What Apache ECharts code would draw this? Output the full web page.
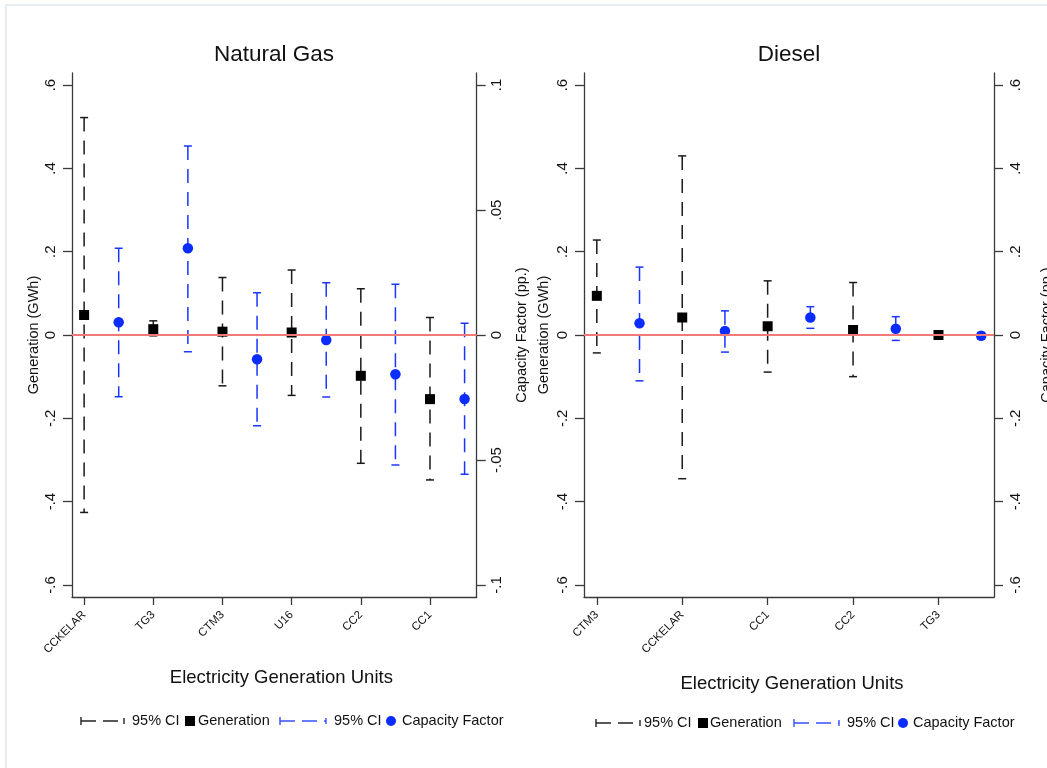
<!DOCTYPE html>
<html>
<head>
<meta charset="utf-8">
<title>Natural Gas / Diesel</title>
<script src="https://cdn.jsdelivr.net/npm/echarts@6/dist/echarts.min.js"></script>
<style>
  html, body { margin: 0; padding: 0; background: #fff; }
  #chart { width: 1047px; height: 768px; }
</style>
</head>
<body>
<div id="chart"></div>
<script>
// Natural gas units (left panel)
const gasUnits = ["CCKELAR", "TG3", "CTM3", "U16", "CC2", "CC1"];
const gasGen = [0.048, 0.014, 0.008, 0.006, -0.098, -0.154];
const gasGenLo = [-0.426, -0.002, -0.122, -0.145, -0.308, -0.348];
const gasGenHi = [0.522, 0.034, 0.138, 0.156, 0.111, 0.042];
const gasCF = [0.0051, 0.0347, -0.0097, -0.002, -0.0157, -0.0256];
const gasCFLo = [-0.0247, -0.0067, -0.0363, -0.0248, -0.052, -0.0557];
const gasCFHi = [0.0347, 0.0756, 0.0169, 0.0209, 0.0203, 0.0047];

// Diesel units (right panel)
const dslUnits = ["CTM3", "CCKELAR", "CC1", "CC2", "TG3"];
const dslGen = [0.094, 0.042, 0.021, 0.012, 0.0];
const dslGenLo = [-0.043, -0.345, -0.089, -0.1, -0.003];
const dslGenHi = [0.228, 0.43, 0.13, 0.126, 0.003];
const dslCF = [0.028, 0.0096, 0.042, 0.015, -0.002];
const dslCFLo = [-0.11, -0.041, 0.016, -0.013, -0.01];
const dslCFHi = [0.163, 0.058, 0.068, 0.044, 0.006];

// tick labels
const genTicks = [-0.6, -0.4, -0.2, 0, 0.2, 0.4, 0.6];
const gasCFTicks = [-0.1, -0.05, 0, 0.05, 0.1];
const dslCFTicks = [-0.6, -0.4, -0.2, 0, 0.2, 0.4, 0.6];

const FONT = "'Liberation Sans', Arial, Helvetica, sans-serif";
const BLACK = "#111";
const BLUE = "#0a2cff";
const BLUE_CI = "#1836ff";
const AXIS = "#3a3a3a";

// stata style: .6, -.4, 0
function stataFmt(v) {
  if (Math.abs(v) < 1e-9) return "0";
  return String(+v.toFixed(3)).replace("0.", ".");
}

function genPts(vals) { return vals.map((v, i) => [2 * i + 1, v]); }
function cfPts(vals) { return vals.map((v, i) => [2 * i + 2, v]); }
function ciRows(lo, hi, off) { return lo.map((l, i) => [2 * i + off, l, hi[i]]); }

// rcap drawn as dashed stem with solid caps
function ciRender(color) {
  return function (params, api) {
    const x = api.value(0);
    const top = api.coord([x, api.value(2)]);
    const bot = api.coord([x, api.value(1)]);
    const w = 4;
    return {
      type: "group",
      children: [
        { type: "line", shape: { x1: top[0], y1: top[1], x2: bot[0], y2: bot[1] },
          style: { stroke: color, lineWidth: 1.5, lineDash: [14, 9] } },
        { type: "line", shape: { x1: top[0] - w, y1: top[1], x2: top[0] + w, y2: top[1] },
          style: { stroke: color, lineWidth: 1.5 } },
        { type: "line", shape: { x1: bot[0] - w, y1: bot[1], x2: bot[0] + w, y2: bot[1] },
          style: { stroke: color, lineWidth: 1.5 } }
      ]
    };
  };
}

function xAxisFor(grid, units, min, max, pad) {
  const pos = units.map((u, i) => 2 * i + 1);
  return {
    type: "value", gridIndex: grid, min: min, max: max,
    name: "Electricity Generation Units", nameLocation: "middle",
    nameGap: grid === 0 ? 71 : 77,
    nameTextStyle: { fontFamily: FONT, fontSize: 18.5, color: BLACK, padding: [0, 0, 0, pad] },
    axisLine: { show: true, onZero: false, lineStyle: { color: AXIS, width: 1.3 } },
    axisTick: { show: true, length: 8, customValues: pos, lineStyle: { color: AXIS, width: 1.3 } },
    axisLabel: {
      customValues: pos, rotate: 45, margin: 16,
      fontFamily: FONT, fontSize: 11.5, color: BLACK,
      formatter: v => units[Math.round((v - 1) / 2)]
    },
    splitLine: { show: false }
  };
}

function yAxisFor(grid, side, min, max, ticks, gap, name, margin) {
  return {
    type: "value", gridIndex: grid, position: side, min: min, max: max,
    name: name, nameLocation: "middle", nameRotate: 90, nameGap: gap,
    nameTextStyle: { fontFamily: FONT, fontSize: 14.5, color: BLACK },
    axisLine: { show: true, onZero: false, lineStyle: { color: AXIS, width: 1.3 } },
    axisTick: { show: true, length: 9, customValues: ticks, lineStyle: { color: AXIS, width: 1.3 } },
    axisLabel: {
      customValues: ticks, rotate: 90, margin: margin,
      fontFamily: FONT, fontSize: 15, color: BLACK, formatter: stataFmt
    },
    splitLine: { show: false }
  };
}

function panelSeries(xi, yGen, yCF, gen, genLo, genHi, cf, cfLo, cfHi) {
  return [
    { type: "custom", xAxisIndex: xi, yAxisIndex: yGen, z: 2, silent: true,
      renderItem: ciRender("#1a1a1a"), encode: { x: 0, y: [1, 2] },
      data: ciRows(genLo, genHi, 1) },
    { type: "custom", xAxisIndex: xi, yAxisIndex: yCF, z: 2, silent: true,
      renderItem: ciRender(BLUE_CI), encode: { x: 0, y: [1, 2] },
      data: ciRows(cfLo, cfHi, 2) },
    { type: "line", xAxisIndex: xi, yAxisIndex: yGen, z: 3, data: [], silent: true,
      markLine: { silent: true, symbol: "none", label: { show: false },
        lineStyle: { color: "#f07a78", width: 2, type: "solid", opacity: 1 },
        data: [{ yAxis: 0 }] } },
    { type: "scatter", xAxisIndex: xi, yAxisIndex: yGen, z: 4, symbol: "rect", symbolSize: 10,
      itemStyle: { color: "#000", opacity: 1 }, data: genPts(gen) },
    { type: "scatter", xAxisIndex: xi, yAxisIndex: yCF, z: 4, symbol: "circle", symbolSize: 10.5,
      itemStyle: { color: BLUE, opacity: 1 }, data: cfPts(cf) }
  ];
}

// legend pieces (drawn as graphics)
function ciIcon(x1, x2, y, color) {
  return [
    { type: "line", shape: { x1: x1, y1: y, x2: x2, y2: y },
      style: { stroke: color, lineWidth: 1.4, lineDash: [15, 7] } },
    { type: "line", shape: { x1: x1, y1: y - 4, x2: x1, y2: y + 4 }, style: { stroke: color, lineWidth: 1.4 } },
    { type: "line", shape: { x1: x2, y1: y - 3, x2: x2, y2: y + 3 }, style: { stroke: color, lineWidth: 1.4 } }
  ];
}
function txt(x, y, s) {
  return { type: "text", x: x, y: y,
    style: { text: s, fontFamily: FONT, fontSize: 14.5, fill: BLACK, verticalAlign: "middle" } };
}
function legend(p, y) {
  return [].concat(
    ciIcon(p[0], p[1], y, "#222"),
    [txt(p[2], y, "95% CI"),
     { type: "rect", shape: { x: p[3], y: y - 5, width: 10, height: 10 }, style: { fill: "#000" } },
     txt(p[4], y, "Generation")],
    ciIcon(p[5], p[6], y, "#3550ff"),
    [txt(p[7], y, "95% CI"),
     { type: "circle", shape: { cx: p[8], cy: y, r: 5 }, style: { fill: BLUE } },
     txt(p[9], y, "Capacity Factor")]
  );
}

const chart = echarts.init(document.getElementById("chart"), null, { renderer: "canvas" });

chart.setOption({
  backgroundColor: "#fff",
  animation: false,
  title: [
    { text: "Natural Gas", left: 274, top: 43, padding: 0, textAlign: "center",
      textStyle: { fontFamily: FONT, fontSize: 22.5, fontWeight: "normal", color: BLACK } },
    { text: "Diesel", left: 789, top: 43, padding: 0, textAlign: "center",
      textStyle: { fontFamily: FONT, fontSize: 22.5, fontWeight: "normal", color: BLACK } }
  ],
  grid: [
    { left: 72, top: 73, width: 404.7, height: 524, outerBoundsMode: "none", containLabel: false },
    { left: 584, top: 73, width: 410, height: 524, outerBoundsMode: "none", containLabel: false }
  ],
  xAxis: [
    xAxisFor(0, gasUnits, 0.65, 12.35, 14),
    xAxisFor(1, dslUnits, 0.7, 10.3, 6)
  ],
  yAxis: [
    yAxisFor(0, "left", -0.629, 0.629, genTicks, 30.5, "Generation (GWh)", 14),
    yAxisFor(0, "right", -0.1048, 0.1048, gasCFTicks, 38, "Capacity Factor (pp.)", 13),
    yAxisFor(1, "left", -0.629, 0.629, genTicks, 32.5, "Generation (GWh)", 14),
    yAxisFor(1, "right", -0.629, 0.629, dslCFTicks, 45, "Capacity Factor (pp.)", 14)
  ],
  series: [].concat(
    panelSeries(0, 0, 1, gasGen, gasGenLo, gasGenHi, gasCF, gasCFLo, gasCFHi),
    panelSeries(1, 2, 3, dslGen, dslGenLo, dslGenHi, dslCF, dslCFLo, dslCFHi)
  ),
  graphic: [
    { type: "rect", silent: true, shape: { x: 6, y: 5, width: 1200, height: 900 },
      style: { fill: "none", stroke: "#e6edf2", lineWidth: 2 } },
    { type: "group", silent: true,
      children: legend([81, 124, 132, 185, 198, 280, 326, 334, 391, 402], 721) },
    { type: "group", silent: true,
      children: legend([596, 640, 644, 698, 710, 794, 839, 847, 903, 913], 723) }
  ]
});
</script>
</body>
</html>
